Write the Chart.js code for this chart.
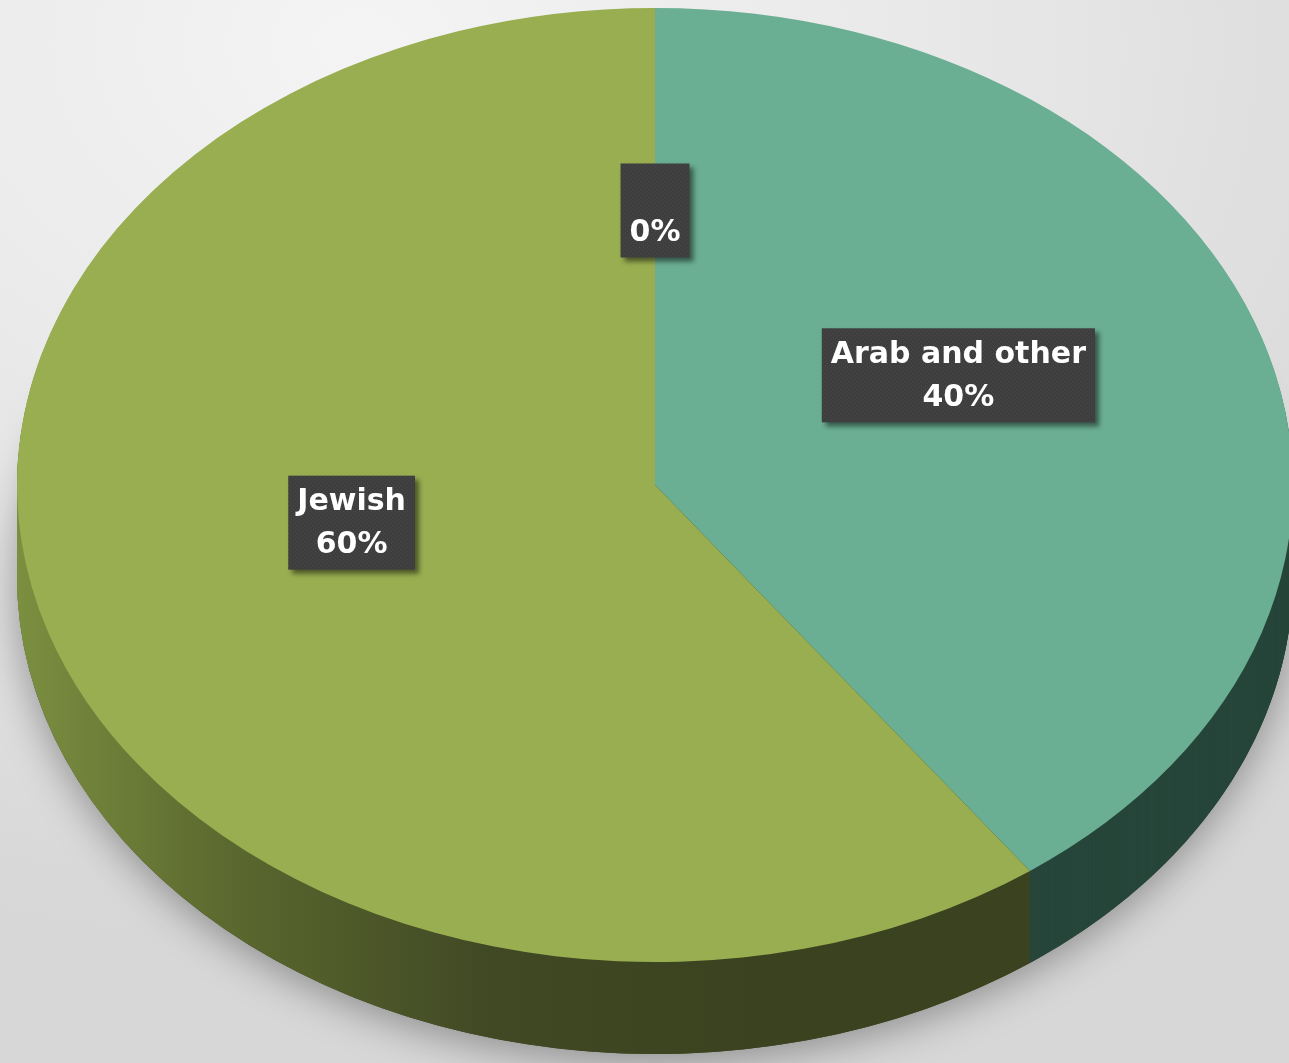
<!DOCTYPE html>
<html>
<head>
<meta charset="utf-8">
<script src="https://cdn.jsdelivr.net/npm/chart.js@4"></script>
<style>
  html, body { margin: 0; padding: 0; }
  body {
    width: 1289px; height: 1063px; overflow: hidden;
    background: radial-gradient(ellipse 95% 85% at 28% 4%, #f4f4f4 0%, #e9e9e9 45%, #d7d7d7 100%);
  }
  canvas { display: block; }
</style>
</head>
<body>
<canvas id="pieChart" width="1289" height="1063"></canvas>
<script>
// data
const categories = ['Arab and other', 'Jewish', ''];
const shares = [40, 60, 0];
const sliceColors = ['#6aae93', '#98ae50', '#98ae50'];

// look of the fake 3D pie
const RX = 638;          // horizontal radius of the top face on screen
const DEPTH = 92;        // thickness of the side
const LABEL_LIFT = 36;   // perspective correction for label placement

function greenSide(ctx, cx, rx) {
  const g = ctx.createLinearGradient(cx - rx, 0, cx + rx * 0.15, 0);
  g.addColorStop(0, '#7b8f40');
  g.addColorStop(0.3, '#5a672e');
  g.addColorStop(0.65, '#404824');
  g.addColorStop(1, '#3b421f');
  return g;
}

function makeDots(ctx) {
  const c = document.createElement('canvas');
  c.width = 4; c.height = 4;
  const p = c.getContext('2d');
  p.fillStyle = '#3e3e3e';
  p.fillRect(0, 0, 4, 4);
  p.fillStyle = '#4a4a4a';
  p.fillRect(1, 1, 1, 1);
  p.fillRect(3, 3, 1, 1);
  return ctx.createPattern(c, 'repeat');
}

const pie3d = {
  id: 'pie3d',
  beforeDatasetsDraw(chart) {
    const ctx = chart.ctx;
    const arcs = chart.getDatasetMeta(0).data;
    const cx = arcs[0].x, cy = arcs[0].y, r = arcs[0].outerRadius;
    const sx = RX / r;
    const sideFill = [ '#27463b', greenSide(ctx, cx, RX), greenSide(ctx, cx, RX) ];

    // soft shadow under the pie
    ctx.save();
    ctx.shadowColor = 'rgba(0,0,0,0.35)';
    ctx.shadowBlur = 40;
    ctx.shadowOffsetY = 8;
    ctx.fillStyle = '#3b421f';
    ctx.beginPath();
    ctx.ellipse(cx, cy + DEPTH, RX, r, 0, 0, Math.PI * 2);
    ctx.fill();
    ctx.restore();

    // side: stack the slices downwards
    ctx.save();
    for (let off = DEPTH; off > 0; off--) {
      arcs.forEach((a, i) => {
        if (a.endAngle - a.startAngle <= 0) return;
        ctx.beginPath();
        ctx.moveTo(cx, cy + off);
        ctx.ellipse(cx, cy + off, RX, r, 0, a.startAngle, a.endAngle);
        ctx.closePath();
        ctx.fillStyle = sideFill[i];
        ctx.fill();
      });
    }
    ctx.restore();

    // squash the round pie into the top-face ellipse
    ctx.save();
    ctx.translate(cx, cy);
    ctx.scale(sx, 1);
    ctx.translate(-cx, -cy);
  },
  afterDatasetsDraw(chart) {
    chart.ctx.restore();
  },
  afterDraw(chart) {
    const ctx = chart.ctx;
    const arcs = chart.getDatasetMeta(0).data;
    const dots = makeDots(ctx);
    arcs.forEach((a, i) => {
      const mid = (a.startAngle + a.endAngle) / 2;
      const sx = RX / a.outerRadius;
      const px = a.x + Math.cos(mid) * a.outerRadius * 0.5 * sx;
      const py = a.y + Math.sin(mid) * a.outerRadius * 0.5 - LABEL_LIFT;
      const lines = [categories[i], shares[i] + '%'];

      ctx.save();
      ctx.font = 'bold 30px "DejaVu Sans"';
      const w = Math.max(...lines.map(t => ctx.measureText(t).width)) + 18;
      const h = 94;
      ctx.shadowColor = 'rgba(0,0,0,0.5)';
      ctx.shadowBlur = 5;
      ctx.shadowOffsetX = 4;
      ctx.shadowOffsetY = 4;
      ctx.fillStyle = dots;
      ctx.fillRect(px - w / 2, py - h / 2, w, h);
      ctx.shadowColor = 'transparent';
      ctx.fillStyle = '#ffffff';
      ctx.textAlign = 'center';
      ctx.textBaseline = 'middle';
      ctx.fillText(lines[0], px, py - 20);
      ctx.fillText(lines[1], px, py + 23);
      ctx.restore();
    });
  }
};

const ctx = document.getElementById('pieChart').getContext('2d');
new Chart(ctx, {
  type: 'pie',
  data: {
    labels: categories,
    datasets: [{
      data: shares,
      backgroundColor: sliceColors,
      borderWidth: 0,
      hoverOffset: 0,
      offset: 0,
      clip: false
    }]
  },
  options: {
    responsive: false,
    animation: false,
    events: [],
    layout: { padding: { top: 8, bottom: 101, left: 178, right: 157 } },
    plugins: {
      legend: { display: false },
      tooltip: { enabled: false }
    }
  },
  plugins: [pie3d]
});
</script>
</body>
</html>
